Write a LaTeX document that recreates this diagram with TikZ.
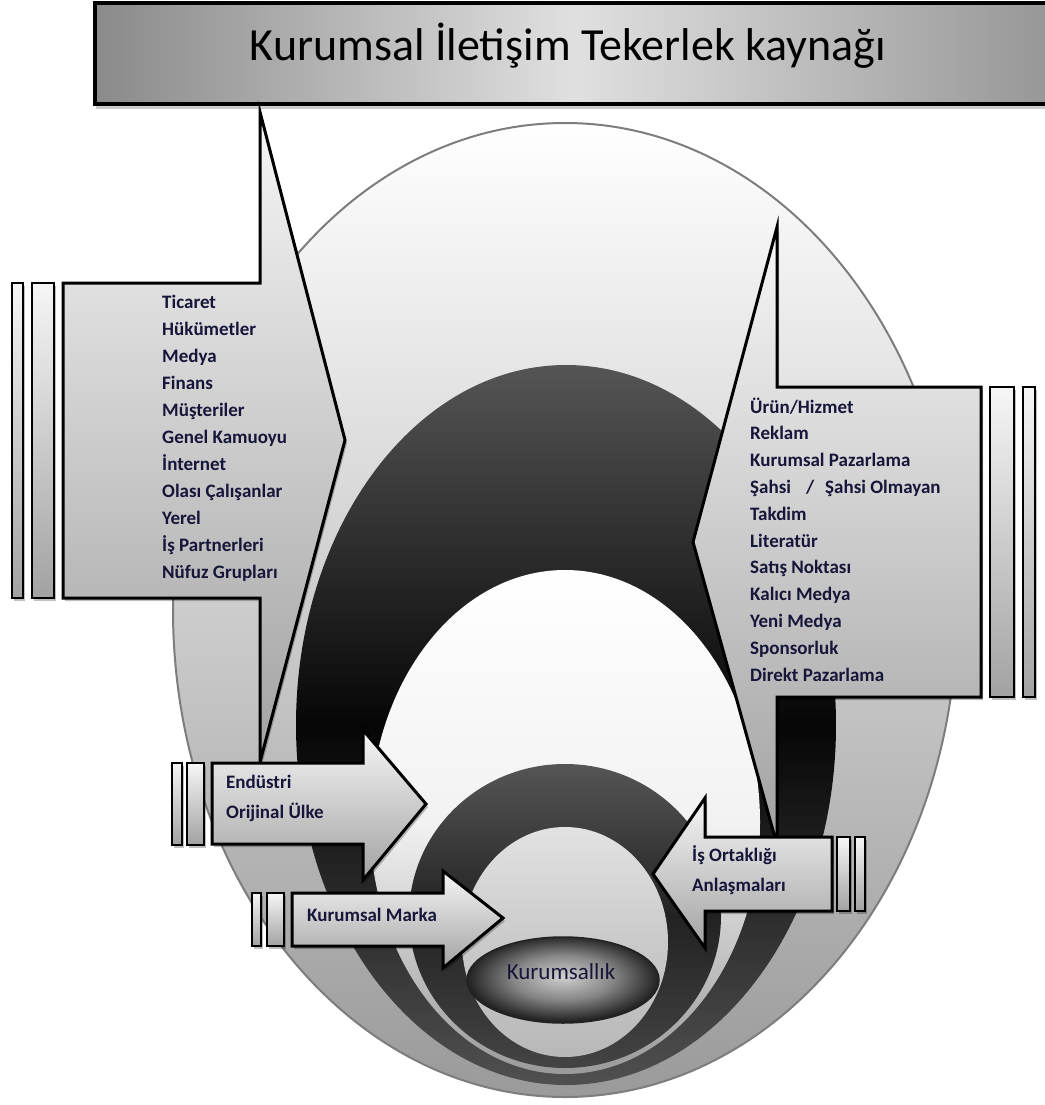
\documentclass[tikz,border=0pt]{standalone}
\usepackage{fontspec}
\setmainfont{Carlito}
\usetikzlibrary{shadows}

\definecolor{ink}{RGB}{22,22,58}
\definecolor{rimline}{HTML}{7D7D7D}
\definecolor{rimlow}{HTML}{9A9A9A}
\definecolor{archtop}{HTML}{555555}
\definecolor{archmid}{HTML}{060606}
\definecolor{archlow}{HTML}{505050}
\definecolor{eggmid}{HTML}{F2F2F2}
\definecolor{egglow}{HTML}{9A9A9A}
\definecolor{innertop}{HTML}{555555}
\definecolor{innermid}{HTML}{222222}
\definecolor{innerlow}{HTML}{444444}
\definecolor{yolktop}{HTML}{E2E2E2}
\definecolor{yolkmid}{HTML}{CACACA}
\definecolor{yolklow}{HTML}{B8B8B8}
\definecolor{corein}{HTML}{D0D0D0}
\definecolor{coremid}{HTML}{868686}
\definecolor{coreout}{HTML}{222222}
\definecolor{paneltop}{HTML}{F6F6F6}
\definecolor{panellow}{HTML}{A2A2A2}
\definecolor{barleft}{HTML}{8A8A8A}
\definecolor{barmid}{HTML}{E0E0E0}
\definecolor{barright}{HTML}{969696}

% radial shading for the central ellipse: light centre, dark rim
\pgfdeclareradialshading{coreball}{\pgfpoint{0bp}{2bp}}{%
  color(0bp)=(corein); color(13bp)=(coremid); color(25bp)=(coreout); color(50bp)=(coreout)}

\tikzset{
  panel/.style={draw=black, line width=3pt, line join=miter,
    top color=paneltop, bottom color=panellow,
    drop shadow={shadow xshift=2pt, shadow yshift=-3pt, opacity=.25, fill=black}},
  slat/.style={draw=black, line width=2.6pt,
    top color=paneltop, bottom color=panellow,
    drop shadow={shadow xshift=2pt, shadow yshift=-3pt, opacity=.25, fill=black}},
  item/.style={anchor=base west, inner sep=0pt, text=ink,
    font=\bfseries\fontsize{19}{22}\selectfont},
}

\begin{document}
\begin{tikzpicture}[x=1pt, y=-1pt]
\useasboundingbox (0,0) rectangle (1044,1105);

% ---- nested wheel rings -------------------------------------------------
\shade[top color=white, bottom color=rimlow, draw=rimline, line width=2pt]
  (565,610) ellipse [x radius=392, y radius=487];
\shade[top color=archtop, bottom color=archlow, middle color=archmid]
  (566,725) ellipse [x radius=270, y radius=360];
\shade[top color=white, bottom color=egglow, middle color=eggmid]
  (565,822) ellipse [x radius=195, y radius=252];
\shade[top color=innertop, bottom color=innerlow, middle color=innermid]
  (565,916) ellipse [x radius=156, y radius=152];
\shade[top color=yolktop, bottom color=yolklow, middle color=yolkmid]
  (565,942) ellipse [x radius=103, y radius=115];
\path[shading=coreball, draw=coreout, line width=1.5pt]
  (563,980) ellipse [x radius=96, y radius=43];
\node[inner sep=0pt, text=ink, font=\fontsize{23}{27}\selectfont] (core) at (561,972) {Kurumsallık};

% ---- title bar ----------------------------------------------------------
\path[draw=black, line width=4pt, left color=barleft, right color=barright, middle color=barmid,
      drop shadow={shadow xshift=1pt, shadow yshift=-5pt, opacity=.2, fill=black}]
  (95,3) rectangle (1056,104);
\node[anchor=base, inner sep=0pt, font=\fontsize{46}{52}\selectfont]
  (title) at (568,61) {Kurumsal İletişim Tekerlek kaynağı};

% ---- left callout: audiences --------------------------------------------
\path[slat] (12,283) rectangle (23,598);
\path[slat] (32,283) rectangle (54,598);
\path[panel] (63,283) -- (260,283) -- (260,112) -- (345,440) -- (260,762)
  -- (260,598) -- (63,598) -- cycle;
\foreach \t [count=\i] in {Ticaret, Hükümetler, Medya, Finans, Müşteriler,
    Genel Kamuoyu, İnternet, Olası Çalışanlar, Yerel, İş Partnerleri, Nüfuz Grupları}
  \node[item] (aud-\i) at (162,{308+27*(\i-1)}) {\t};

% ---- right callout: communication tools ---------------------------------
\path[slat] (1023,387) rectangle (1035,697);
\path[slat] (990,387) rectangle (1014,697);
\path[panel] (777,387) -- (777,227) -- (693,542) -- (777,845) -- (777,697)
  -- (981,697) -- (981,387) -- cycle;
\foreach \t [count=\i] in {Ürün/Hizmet, Reklam, Kurumsal Pazarlama,
    {Şahsi\hspace{15pt}/\hspace{11pt}Şahsi Olmayan}, Takdim, Literatür, Satış Noktası,
    Kalıcı Medya, Yeni Medya, Sponsorluk, Direkt Pazarlama}
  \node[item] (tool-\i) at (750,{413+26.8*(\i-1)}) {\t};

% ---- arrow: industry / country of origin --------------------------------
\path[slat] (172,763) rectangle (182,845);
\path[slat] (187,763) rectangle (204,845);
\path[panel] (212,763) -- (363,763) -- (363,730) -- (426,804) -- (363,880)
  -- (363,844) -- (212,844) -- cycle;
\node[item] (ind-1) at (226,788) {Endüstri};
\node[item] (ind-2) at (226,818) {Orijinal Ülke};

% ---- arrow: corporate brand ---------------------------------------------
\path[slat] (252,893) rectangle (261,946);
\path[slat] (267,893) rectangle (284,946);
\path[panel] (292,893) -- (443,893) -- (443,871) -- (503,918) -- (443,968)
  -- (443,946) -- (292,946) -- cycle;
\node[item] (brand) at (307,921) {Kurumsal Marka};

% ---- arrow: joint ventures ----------------------------------------------
\path[slat] (855,837) rectangle (865,911);
\path[slat] (837,837) rectangle (850,911);
\path[panel] (832,837) -- (705,837) -- (705,798) -- (653,874) -- (705,948)
  -- (705,911) -- (832,911) -- cycle;
\node[item] (jv-1) at (692,861) {İş Ortaklığı};
\node[item] (jv-2) at (692,891) {Anlaşmaları};
\end{tikzpicture}
\end{document}
